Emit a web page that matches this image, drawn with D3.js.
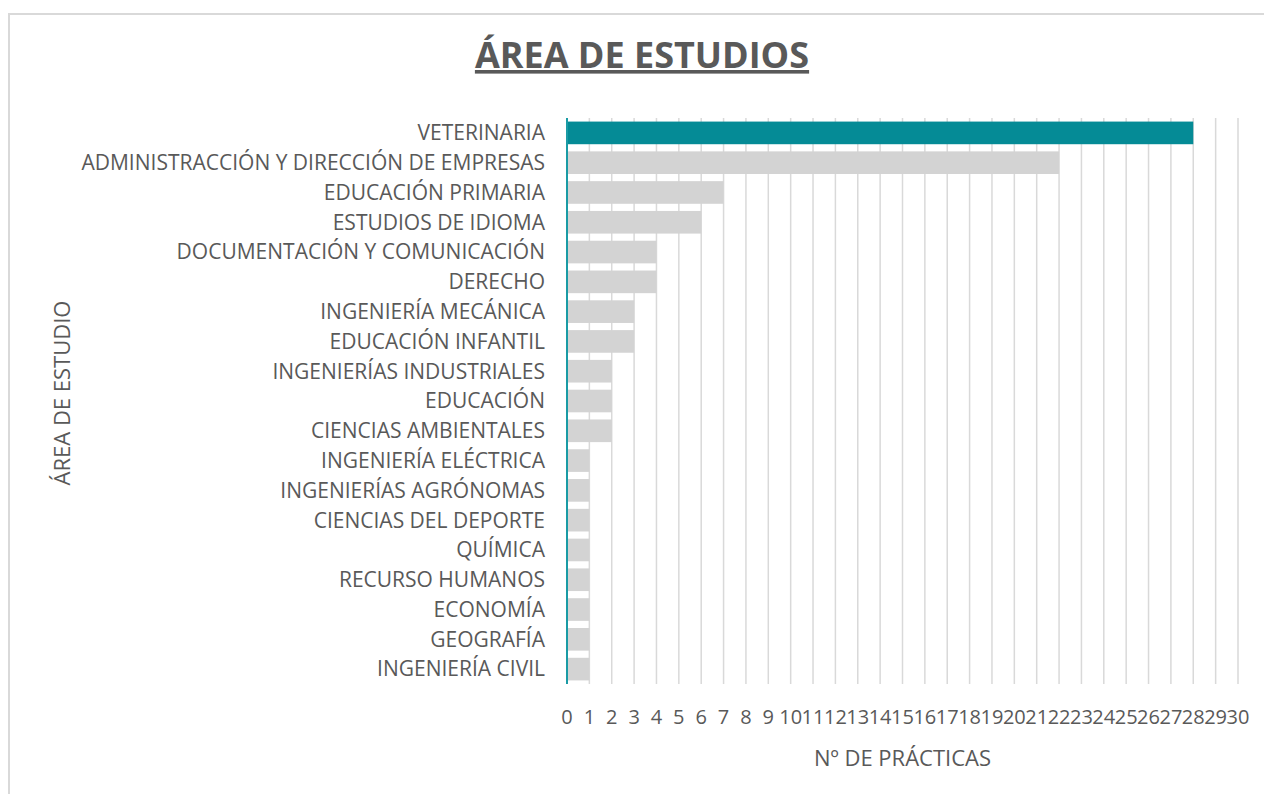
<!DOCTYPE html>
<html>
<head>
<meta charset="utf-8">
<script src="https://cdn.jsdelivr.net/npm/d3@7"></script>
<style>
  body { margin: 0; background: #fff; }
  text { font-family: "Open Sans", sans-serif; fill: #595959; }
</style>
</head>
<body>
<script>
var categories = ["VETERINARIA", "ADMINISTRACCIÓN Y DIRECCIÓN DE EMPRESAS", "EDUCACIÓN PRIMARIA",
                  "ESTUDIOS DE IDIOMA", "DOCUMENTACIÓN Y COMUNICACIÓN", "DERECHO",
                  "INGENIERÍA MECÁNICA", "EDUCACIÓN INFANTIL", "INGENIERÍAS INDUSTRIALES",
                  "EDUCACIÓN", "CIENCIAS AMBIENTALES", "INGENIERÍA ELÉCTRICA",
                  "INGENIERÍAS AGRÓNOMAS", "CIENCIAS DEL DEPORTE", "QUÍMICA",
                  "RECURSO HUMANOS", "ECONOMÍA", "GEOGRAFÍA", "INGENIERÍA CIVIL"];
var practicas = [28, 22, 7, 6, 4, 4, 3, 3, 2, 2, 2, 1, 1, 1, 1, 1, 1, 1, 1];
var xTicks = d3.range(0, 31);

var W = 1264, H = 794;
var margin = {top: 118, right: 26, bottom: 110, left: 567};
var w = W - margin.left - margin.right;
var h = H - margin.top - margin.bottom;

var svg = d3.select("body").append("svg")
    .attr("width", W)
    .attr("height", H);

// chart border
svg.append("rect")
   .attr("x", 9).attr("y", 14)
   .attr("width", W + 20).attr("height", H + 20)
   .attr("fill", "none")
   .attr("stroke", "#d9d9d9")
   .attr("stroke-width", 2);

var x = d3.scaleLinear().domain([0, 30]).range([0, w]);
var y = d3.scaleBand().domain(categories).range([0, h]).paddingInner(0.24).paddingOuter(0.12);

var g = svg.append("g").attr("transform", "translate(" + margin.left + "," + margin.top + ")");

// gridlines
g.selectAll("line.grid")
 .data(xTicks.slice(1))
 .enter().append("line")
 .attr("class", "grid")
 .attr("x1", function(d) { return x(d); })
 .attr("x2", function(d) { return x(d); })
 .attr("y1", 0).attr("y2", h)
 .attr("stroke", "#d9d9d9")
 .attr("stroke-width", 1.5);

g.selectAll("rect.bar")
 .data(practicas)
 .enter().append("rect")
 .attr("class", "bar")
 .attr("x", x(0))
 .attr("y", function(d, i) { return y(categories[i]); })
 .attr("width", function(d) { return x(d) - x(0); })
 .attr("height", y.bandwidth())
 .attr("fill", function(d, i) { return i === 0 ? "#058b96" : "#d3d3d3"; });

// axis line
g.append("line")
 .attr("x1", x(0)).attr("x2", x(0))
 .attr("y1", 0).attr("y2", h)
 .attr("stroke", "#1a9ba5")
 .attr("stroke-width", 2);

// category labels
g.selectAll("text.cat")
 .data(categories)
 .enter().append("text")
 .attr("class", "cat")
 .attr("x", -22)
 .attr("y", function(d) { return y(d) + y.bandwidth() / 2; })
 .attr("dy", "0.35em")
 .attr("text-anchor", "end")
 .style("font-size", "21px")
 .text(function(d) { return d; });

// x tick labels
g.selectAll("text.tick")
 .data(xTicks)
 .enter().append("text")
 .attr("class", "tick")
 .attr("x", function(d) { return x(d); })
 .attr("y", h + 40)
 .attr("text-anchor", "middle")
 .style("font-size", "20px")
 .text(function(d) { return d; });

// axis titles
svg.append("text")
   .attr("x", margin.left + w / 2)
   .attr("y", 766)
   .attr("text-anchor", "middle")
   .style("font-size", "22px")
   .text("Nº DE PRÁCTICAS");

svg.append("text")
   .attr("transform", "translate(70,393) rotate(-90)")
   .attr("text-anchor", "middle")
   .style("font-size", "22px")
   .text("ÁREA DE ESTUDIO");

// title
svg.append("text")
   .attr("x", 642)
   .attr("y", 68)
   .attr("text-anchor", "middle")
   .style("font-size", "36px")
   .style("font-weight", "bold")
   .style("text-decoration", "underline")
   .text("ÁREA DE ESTUDIOS");
</script>
</body>
</html>
